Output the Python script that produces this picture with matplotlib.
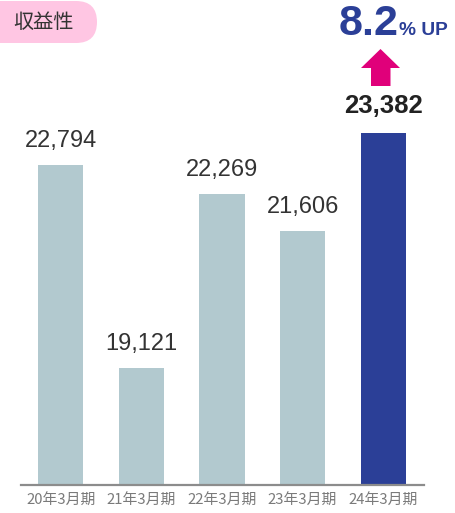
"""Profit bars for five fiscal years, last year highlighted."""
import matplotlib
matplotlib.use("Agg")
import matplotlib.pyplot as plt
from matplotlib import transforms
from matplotlib.patches import FancyBboxPatch, Polygon

W, H = 455, 513

periods = ["20年3月期", "21年3月期", "22年3月期", "23年3月期", "24年3月期"]
profit = [22794, 19121, 22269, 21606, 23382]
growth_label = "8.2"
growth_unit = "% UP"
title = "収益性"

BAR_GREY = "#b2c9cf"
BAR_NAVY = "#2b3f97"
ARROW_PINK = "#e0007a"
PILL_PINK = "#ffc6e3"

NUM_FONT = ["Liberation Sans", "DejaVu Sans"]
JP_FONT = ["Noto Sans CJK JP", "DejaVu Sans"]


def main():
    fig = plt.figure(figsize=(W / 100, H / 100), dpi=100)
    # pixel coordinates measured from the top-left corner
    px = transforms.Affine2D().scale(1 / W, -1 / H).translate(0, 1) + fig.transFigure

    ax = fig.add_axes([20.5 / W, 28 / H, 403 / W, 485 / H])
    xs = list(range(len(profit)))
    colors = [BAR_GREY] * (len(profit) - 1) + [BAR_NAVY]
    ax.bar(xs, profit, width=0.56, color=colors, zorder=2)
    ax.set_xlim(-0.5, len(profit) - 0.5)
    ax.set_ylim(17000, 17000 + 485 / 0.0552)

    for s in ["top", "right", "left"]:
        ax.spines[s].set_visible(False)
    ax.spines["bottom"].set_color("#8c8c8c")
    ax.spines["bottom"].set_linewidth(1.6)
    ax.spines["bottom"].set_zorder(3)
    ax.set_yticks([])
    ax.set_xticks(xs)
    ax.set_xticklabels(periods, family=JP_FONT, fontsize=10.7, color="#7a7a7a")
    ax.tick_params(axis="x", length=0, pad=6)

    for i, v in enumerate(profit):
        last = i == len(profit) - 1
        ax.annotate(f"{v:,}", (i, v), xytext=(0, 13 if not last else 14),
                    textcoords="offset points", ha="center", va="baseline",
                    family=NUM_FONT, fontsize=18.5 if last else 17,
                    fontweight="bold" if last else "normal",
                    color="#222222" if last else "#333333")

    # title pill
    pill = FancyBboxPatch((-30, 1), 127, 42, boxstyle="round,pad=0,rounding_size=21",
                          transform=px, facecolor=PILL_PINK, edgecolor="none")
    fig.patches.append(pill)
    fig.text(13 / W, 1 - 22 / H, title, family=JP_FONT, fontsize=14.5,
             color="#333333", ha="left", va="center")

    # growth callout
    fig.text(339 / W, 1 - 35 / H, growth_label, family=NUM_FONT, fontsize=31,
             fontweight="bold", color=BAR_NAVY, ha="left", va="baseline")
    fig.text(399 / W, 1 - 35 / H, growth_unit, family=NUM_FONT, fontsize=13.8,
             fontweight="bold", color=BAR_NAVY, ha="left", va="baseline")
    arrow = Polygon([(380.5, 49), (400, 68), (390.5, 68), (390.5, 86),
                     (371, 86), (371, 68), (361, 68)],
                    closed=True, transform=px, facecolor=ARROW_PINK, edgecolor="none")
    fig.patches.append(arrow)

    fig.savefig("out.png", dpi=100)


if __name__ == "__main__":
    main()
